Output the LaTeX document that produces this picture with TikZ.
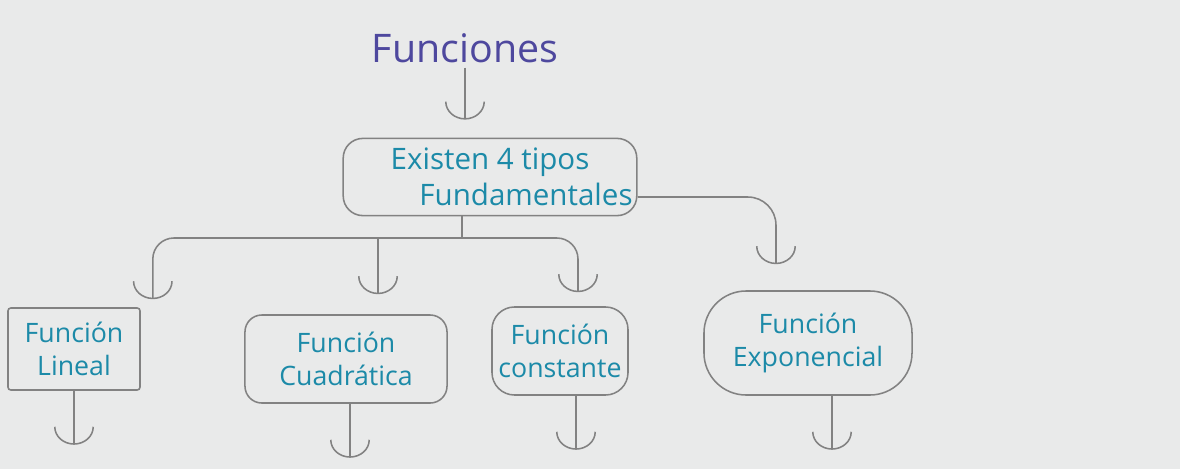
\documentclass[tikz,border=0pt]{standalone}
\usepackage{fontspec}
\setmainfont{Open Sans}
\usepackage{xcolor}
\usepackage{tikz}
\usetikzlibrary{arrows.meta,positioning}

\definecolor{paper}{RGB}{233,234,234}
\definecolor{pencil}{RGB}{130,130,130}
\definecolor{ink}{RGB}{28,138,168}
\definecolor{titleink}{RGB}{78,72,158}

\begin{document}
\begin{tikzpicture}[
        x=0.025cm, y=-0.025cm,
        box/.style={draw=pencil, line width=1.1pt, align=center, text=ink, font=\fontsize{19}{24}\selectfont, inner sep=3pt},
        arrow/.style={draw=pencil, line width=1.1pt, -{Arc Barb[length=4.5mm,width=10mm]}},
        line/.style={draw=pencil, line width=1.1pt}
    ]
        % Paper
        \fill[paper] (0,0) rectangle (1180,469);
        \useasboundingbox (0,0) rectangle (1180,469);

        % Title
        \node[text=titleink, font=\fontsize{28}{32}\selectfont] (fun) at (465,48) {Funciones};

        % Types
        \node[box, font=\fontsize{21}{26}\selectfont, rounded corners=14pt, minimum width=6.95cm, minimum height=1.93cm] (tipos) at (490,177) {Existen 4 tipos\\\hspace*{1.8cm}Fundamentales};

        % Functions
        \node[box, rounded corners=2pt, minimum width=3.3cm, minimum height=2.05cm] (lin) at (74,349) {Función\\Lineal};
        \node[box, rounded corners=12pt, minimum width=5.05cm, minimum height=2.2cm] (cua) at (346,359) {Función\\Cuadrática};
        \node[box, rounded corners=16pt, minimum width=3.4cm, minimum height=2.2cm] (con) at (560,351) {Función\\constante};
        \node[box, rounded corners=30pt, minimum width=5.2cm, minimum height=2.6cm] (exp) at (808,343) {Función\\Exponencial};

        % Arrow tips above the boxes
        \coordinate (j) at (462,238);
        \coordinate (tlin) at ([xshift=0.3cm, yshift=0.2cm]lin.north east);
        \coordinate (tcua) at ([xshift=0.8cm, yshift=0.5cm]cua.north);
        \coordinate (tcon) at ([xshift=0.45cm, yshift=0.35cm]con.north);
        \coordinate (texp) at ([xshift=-0.8cm, yshift=0.65cm]exp.north);

        % Arrows
        \draw[arrow, shorten >=0.45cm] (fun.south) -- (fun.south |- tipos.north);
        \draw[line] (tipos.south -| j) -- (j);
        \draw[arrow, rounded corners=15pt] (j) -| (tlin);
        \draw[arrow, rounded corners=15pt] (j) -| (tcon);
        \draw[arrow] (tcua |- j) -- (tcua);
        \draw[arrow, rounded corners=20pt] ([yshift=-0.5cm]tipos.east) -| (texp);

        % Dangling arrows
        \foreach \n/\dx in {lin/0,cua/0.1,con/0.4,exp/0.6}
            \draw[arrow] ([xshift=\dx cm]\n.south) -- ([xshift=\dx cm, yshift=-1.35cm]\n.south) coordinate (\n-end);
    \end{tikzpicture}
\end{document}
